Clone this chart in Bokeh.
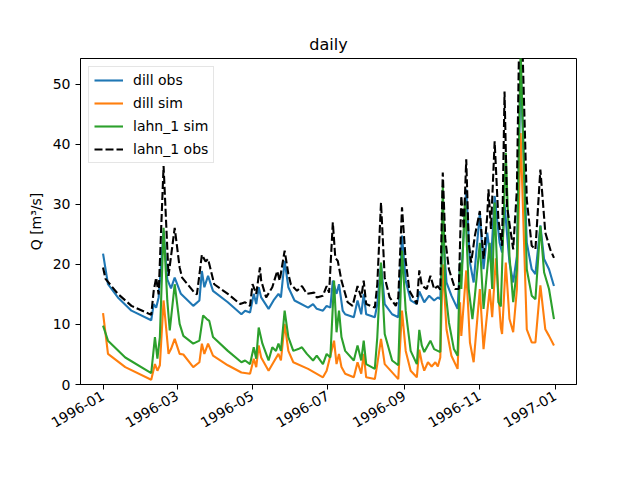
import math
import numpy as np
from bokeh.plotting import figure
from bokeh.models import Range1d, FixedTicker, DatetimeTickFormatter, Legend, LegendItem
from bokeh.embed import file_html
from bokeh.resources import INLINE

# ---- data (day index from 1996-01-01, value in m3/s) ----
dill_obs_days = [0,4,12,23,39,41,43,45,49,52,55,58,63,73,78,80,82,85,89,101,112,115,119,122,124,126,128,134,138,142,144,147,150,155,166,170,173,178,181,184,186,189,191,194,196,203,206,209,211,213,220,222,225,228,234,239,242,245,249,254,256,260,264,268,271,273,275,278,282,287,289,290,294,297,300,305,308,311,314,317,321,323,325,329,332,335,338,343,347,350,354,357,361,365]
dill_obs_vals = [21.8,16.7,14.5,12.3,10.7,13.4,12.8,14.5,25.5,17.5,16.0,17.8,15.1,13.1,14.0,18.9,16.2,18.1,15.6,13.7,11.7,12.3,12.0,15.1,13.4,16.2,14.5,12.6,14.0,15.1,14.5,20.6,16.2,14.0,12.8,13.4,12.6,12.3,13.1,12.8,17.3,15.1,16.7,12.3,11.7,11.2,14.0,11.7,15.1,11.7,11.2,13.4,20.1,13.4,11.7,11.2,24.8,17.3,14.0,13.4,15.5,13.7,14.8,14.0,14.5,14.2,25.9,17.0,14.8,12.6,20.3,18.1,32.5,20.3,17.0,28.6,19.2,25.3,20.3,31.4,23.6,22.0,30.0,20.3,17.0,21.4,53.0,23.6,19.2,18.4,26.5,20.9,19.2,16.4]

dill_sim_days = [0,4,18,39,42,44,46,49,53,55,58,62,65,73,78,80,82,85,89,101,112,119,122,124,126,128,134,138,142,144,147,150,154,166,178,181,187,189,191,193,196,203,206,209,211,213,220,222,225,228,239,242,245,249,254,256,258,260,263,266,269,271,273,275,278,282,287,289,290,294,297,300,305,308,311,313,315,318,322,323,326,329,332,335,338,343,347,350,354,358,361,365]
dill_sim_vals = [11.9,5.1,2.9,0.8,3.4,2.3,3.2,14.0,5.1,5.9,7.6,5.1,5.0,2.9,3.7,6.8,5.1,6.8,4.8,3.2,2.0,1.8,4.3,2.9,6.5,4.5,2.3,3.7,5.1,4.0,10.1,5.6,3.7,2.6,1.2,2.3,7.3,3.4,5.1,2.9,1.8,1.2,3.7,1.8,5.1,1.2,0.9,3.4,7.6,3.4,0.9,12.3,5.6,2.3,1.2,5.8,3.7,2.3,3.7,3.0,3.7,3.0,4.5,20.0,9.2,4.8,2.6,13.7,8.1,19.0,7.0,3.7,15.9,5.9,12.0,15.9,11.2,21.0,9.5,8.4,20.3,10.9,8.7,15.9,41.9,9.2,7.0,7.0,16.5,9.2,8.1,6.5]

lahn_sim_days = [0,4,18,39,42,44,46,49,52,54,58,62,65,73,78,81,84,86,89,101,112,115,119,122,124,126,129,134,137,140,142,144,147,150,154,158,161,165,170,173,178,181,184,187,189,191,193,196,203,206,209,211,213,220,222,225,228,234,239,242,245,249,254,256,258,260,265,268,273,275,277,280,284,287,289,290,293,296,299,301,305,308,311,313,315,317,320,322,326,329,332,335,338,343,347,350,354,357,361,365]
lahn_sim_vals = [9.8,7.3,4.5,1.9,7.9,4.3,7.9,26.1,14.0,9.0,16.7,10.1,8.1,6.8,7.3,11.5,10.9,10.6,7.9,5.6,3.7,4.0,3.4,6.2,4.3,9.5,6.8,4.0,6.2,5.6,6.8,5.6,12.3,7.9,5.6,5.9,6.2,5.1,4.0,4.8,3.4,5.1,4.5,17.3,8.7,12.3,7.9,5.6,4.0,6.5,4.0,7.3,3.4,2.6,7.9,20.3,8.4,4.0,3.2,22.3,12.3,5.6,3.4,9.1,6.5,5.4,7.3,5.9,5.4,33.0,15.9,10.3,5.9,4.8,20.3,15.9,30.8,15.9,10.9,14.8,23.6,12.6,19.2,23.6,15.9,30.3,13.7,13.0,38.6,21.4,13.7,19.2,56.0,19.2,14.8,14.2,26.4,18.7,15.9,10.9]

lahn_obs_days = [0,2,12,23,39,41,43,45,49,53,58,62,64,74,76,80,83,85,90,101,111,115,119,121,124,127,128,132,137,141,143,147,150,152,157,161,165,171,173,178,181,183,186,188,190,193,198,202,206,209,211,213,220,222,225,228,232,237,239,242,245,248,254,256,258,262,265,268,271,273,275,277,280,285,288,289,290,292,294,296,298,301,305,308,311,312,314,317,320,323,325,327,332,335,337,339,343,347,350,354,358,362,365]
lahn_obs_vals = [19.5,17.6,15.1,13.1,11.6,15.6,17.8,15.0,36.4,18.1,26.1,19.5,17.8,15.3,15.0,21.6,20.5,20.9,16.7,15.1,13.4,13.7,13.1,16.7,15.1,19.5,17.3,14.5,16.2,18.9,17.3,22.3,18.4,16.7,15.6,16.4,15.1,15.3,14.5,14.8,16.4,15.3,27.0,21.1,20.6,17.3,13.7,13.1,16.4,14.5,17.3,13.4,12.8,16.7,30.3,17.8,14.5,13.1,14.5,29.5,20.6,15.6,13.4,19.0,16.5,15.9,18.1,15.9,16.4,15.8,35.3,24.2,19.2,15.9,15.9,23.6,31.4,25.9,37.5,23.6,20.3,24.8,28.9,20.9,28.1,32.5,25.9,40.5,27.5,23.1,48.8,29.7,22.5,32.5,60.0,60.0,30.8,23.1,22.5,35.8,25.3,22.5,21.1]

series_labels = ["dill obs", "dill sim", "lahn_1 sim", "lahn_1 obs"]
tick_dates = ["1996-01-01", "1996-03-01", "1996-05-01", "1996-07-01", "1996-09-01", "1996-11-01", "1997-01-01"]
y_ticks = [0, 10, 20, 30, 40, 50]

start = np.datetime64("1996-01-01")


def to_dates(days):
    return start + np.array(days, dtype="timedelta64[D]")


FONT = "DejaVu Sans"

p = figure(width=624, height=464, output_backend="svg", toolbar_location=None,
           x_axis_type="datetime", title="daily",
           min_border_left=80, min_border_right=48, min_border_top=58, min_border_bottom=80)

p.x_range = Range1d(np.datetime64("1995-12-13T18:00"), np.datetime64("1997-01-18T06:00"))
p.y_range = Range1d(0, 54.3)

p.title.align = "center"
p.title.text_font = FONT
p.title.text_font_size = "16px"
p.title.text_font_style = "normal"
p.title.text_color = "black"

p.xgrid.visible = False
p.ygrid.visible = False
p.outline_line_color = "black"
p.outline_line_width = 1
p.background_fill_color = "white"
p.border_fill_color = "white"

tick_ms = np.array(tick_dates, dtype="datetime64[ms]").astype("int64").tolist()
p.xaxis.ticker = FixedTicker(ticks=tick_ms)
fmt = "%Y-%m"
p.xaxis.formatter = DatetimeTickFormatter(milliseconds=fmt, seconds=fmt, minsec=fmt, minutes=fmt,
                                          hourmin=fmt, hours=fmt, days=fmt, months=fmt, years=fmt)
p.xaxis.major_label_orientation = math.pi / 6
p.yaxis.ticker = FixedTicker(ticks=y_ticks)
p.yaxis.axis_label = "Q [m³/s]"

for ax in (p.xaxis[0], p.yaxis[0]):
    ax.axis_line_color = "black"
    ax.major_tick_line_color = "black"
    ax.major_tick_out = 5
    ax.major_tick_in = 0
    ax.minor_tick_line_color = None
    ax.major_label_text_font = FONT
    ax.major_label_text_font_size = "14px"
    ax.major_label_text_color = "black"
    ax.major_label_standoff = 5
    ax.axis_label_text_font = FONT
    ax.axis_label_text_font_size = "14px"
    ax.axis_label_text_font_style = "normal"
    ax.axis_label_text_color = "black"
    ax.axis_label_standoff = 6

r1 = p.line(to_dates(dill_obs_days), dill_obs_vals, line_color="#1f77b4", line_width=2.1)
r2 = p.line(to_dates(dill_sim_days), dill_sim_vals, line_color="#ff7f0e", line_width=2.1)
r3 = p.line(to_dates(lahn_sim_days), lahn_sim_vals, line_color="#2ca02c", line_width=2.1)
r4 = p.line(to_dates(lahn_obs_days), lahn_obs_vals, line_color="black", line_width=2.1, line_dash="8 3")

legend = Legend(items=[LegendItem(label=l, renderers=[r]) for l, r in zip(series_labels, [r1, r2, r3, r4])],
                location="top_left")
legend.margin = 8
legend.padding = 5
legend.spacing = 7
legend.label_height = 14
legend.glyph_height = 14
legend.glyph_width = 29
legend.label_standoff = 10
legend.label_text_font = FONT
legend.label_text_font_size = "14px"
legend.label_text_color = "black"
legend.border_line_color = "#cccccc"
legend.border_line_width = 1
legend.background_fill_alpha = 0.8
p.add_layout(legend)

open("out.html", "w").write(file_html(p, INLINE))
